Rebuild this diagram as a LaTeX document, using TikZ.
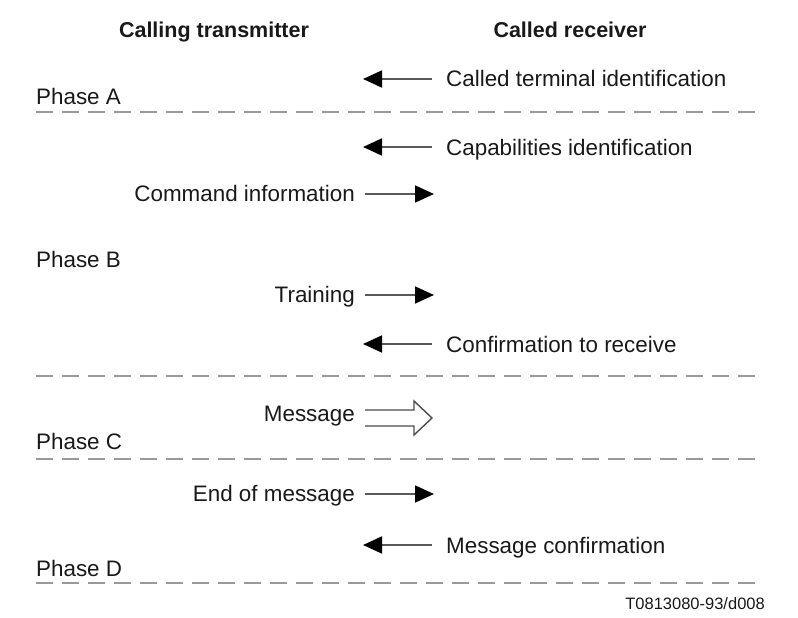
\documentclass[tikz,border=0pt]{standalone}
\usepackage{fontspec}
\setmainfont{Liberation Sans}
\usetikzlibrary{arrows.meta}

\begin{document}
\begin{tikzpicture}[
			x=1pt, y=-1pt,
			>={Triangle[length=19pt,width=17pt,color=black]},
			txt/.style={inner sep=0pt, font=\fontsize{22.4}{26}\selectfont, text=black!90},
			head/.style={txt, font=\fontsize{21.5}{25}\selectfont\bfseries},
			sig/.style={->, line width=1.8pt, draw=black!65},
			phase/.style={draw=black!40, line width=2pt, dash pattern=on 17pt off 9pt}
			]
			
			\useasboundingbox (0,0) rectangle (798,618);
			
			%%%%%%%%%%%%%%%%%%%%%%%%%%%%%%%%%%%%%%%%%%%%%%%%%%%%%%
			% Headings
			%%%%%%%%%%%%%%%%%%%%%%%%%%%%%%%%%%%%%%%%%%%%%%%%%%%%%%
			
			\node[head, anchor=base] (caller) at (214,38) {Calling transmitter};
			\node[head, anchor=base] (called) at (570,38) {Called receiver};
			
			%%%%%%%%%%%%%%%%%%%%%%%%%%%%%%%%%%%%%%%%%%%%%%%%%%%%%%
			% Phase labels and boundaries
			%%%%%%%%%%%%%%%%%%%%%%%%%%%%%%%%%%%%%%%%%%%%%%%%%%%%%%
			
			\node[txt, anchor=base west] (phaseA) at (36,104) {Phase A};
			\node[txt, anchor=base west] (phaseB) at (36,267) {Phase B};
			\node[txt, anchor=base west] (phaseC) at (36,449) {Phase C};
			\node[txt, anchor=base west] (phaseD) at (36,576) {Phase D};
			
			\coordinate (ab-l) at (36,112);  \coordinate (ab-r) at (762,112);
			\coordinate (bc-l) at (36,376);  \coordinate (bc-r) at (762,376);
			\coordinate (cd-l) at (36,459);  \coordinate (cd-r) at (762,459);
			\coordinate (de-l) at (36,583);  \coordinate (de-r) at (762,583);
			
			\draw[phase] (ab-l) -- (ab-r);
			\draw[phase] (bc-l) -- (bc-r);
			\draw[phase] (cd-l) -- (cd-r);
			\draw[phase] (de-l) -- (de-r);
			
			%%%%%%%%%%%%%%%%%%%%%%%%%%%%%%%%%%%%%%%%%%%%%%%%%%%%%%
			% Signals
			%%%%%%%%%%%%%%%%%%%%%%%%%%%%%%%%%%%%%%%%%%%%%%%%%%%%%%
			
			\node[txt, anchor=base west] (cti) at (446,87) {Called terminal identification};
			\coordinate (cti-a) at (432,79);  \coordinate (cti-b) at (363,79);
			\draw[sig] (cti-a) -- (cti-b);
			
			\node[txt, anchor=base west] (cap) at (446,155) {Capabilities identification};
			\coordinate (cap-a) at (432,147);  \coordinate (cap-b) at (363,147);
			\draw[sig] (cap-a) -- (cap-b);
			
			\node[txt, anchor=base east] (cmd) at (355,201) {Command information};
			\coordinate (cmd-a) at (365,194);  \coordinate (cmd-b) at (434,194);
			\draw[sig] (cmd-a) -- (cmd-b);
			
			\node[txt, anchor=base east] (trn) at (355,302) {Training};
			\coordinate (trn-a) at (365,295);  \coordinate (trn-b) at (434,295);
			\draw[sig] (trn-a) -- (trn-b);
			
			\node[txt, anchor=base west] (cfr) at (446,352) {Confirmation to receive};
			\coordinate (cfr-a) at (432,344);  \coordinate (cfr-b) at (363,344);
			\draw[sig] (cfr-a) -- (cfr-b);
			
			\node[txt, anchor=base east] (msg) at (355,421) {Message};
			\coordinate (msg-a) at (365,418);
			\draw[line width=1.4pt, draw=black!70, line join=miter]
			(msg-a) ++(0,-8) -- ++(49,0) -- ++(0,-9) -- ++(18,17)
			-- ++(-18,17) -- ++(0,-9) -- ++(-49,0);
			
			\node[txt, anchor=base east] (eom) at (355,501) {End of message};
			\coordinate (eom-a) at (365,494);  \coordinate (eom-b) at (434,494);
			\draw[sig] (eom-a) -- (eom-b);
			
			\node[txt, anchor=base west] (mcf) at (446,553) {Message confirmation};
			\coordinate (mcf-a) at (432,545);  \coordinate (mcf-b) at (363,545);
			\draw[sig] (mcf-a) -- (mcf-b);
			
			%%%%%%%%%%%%%%%%%%%%%%%%%%%%%%%%%%%%%%%%%%%%%%%%%%%%%%
			
			\node[txt, anchor=base east, font=\fontsize{16.5}{19}\selectfont] (ref) at (765,609) {T0813080-93/d008};
			
		\end{tikzpicture}
\end{document}
